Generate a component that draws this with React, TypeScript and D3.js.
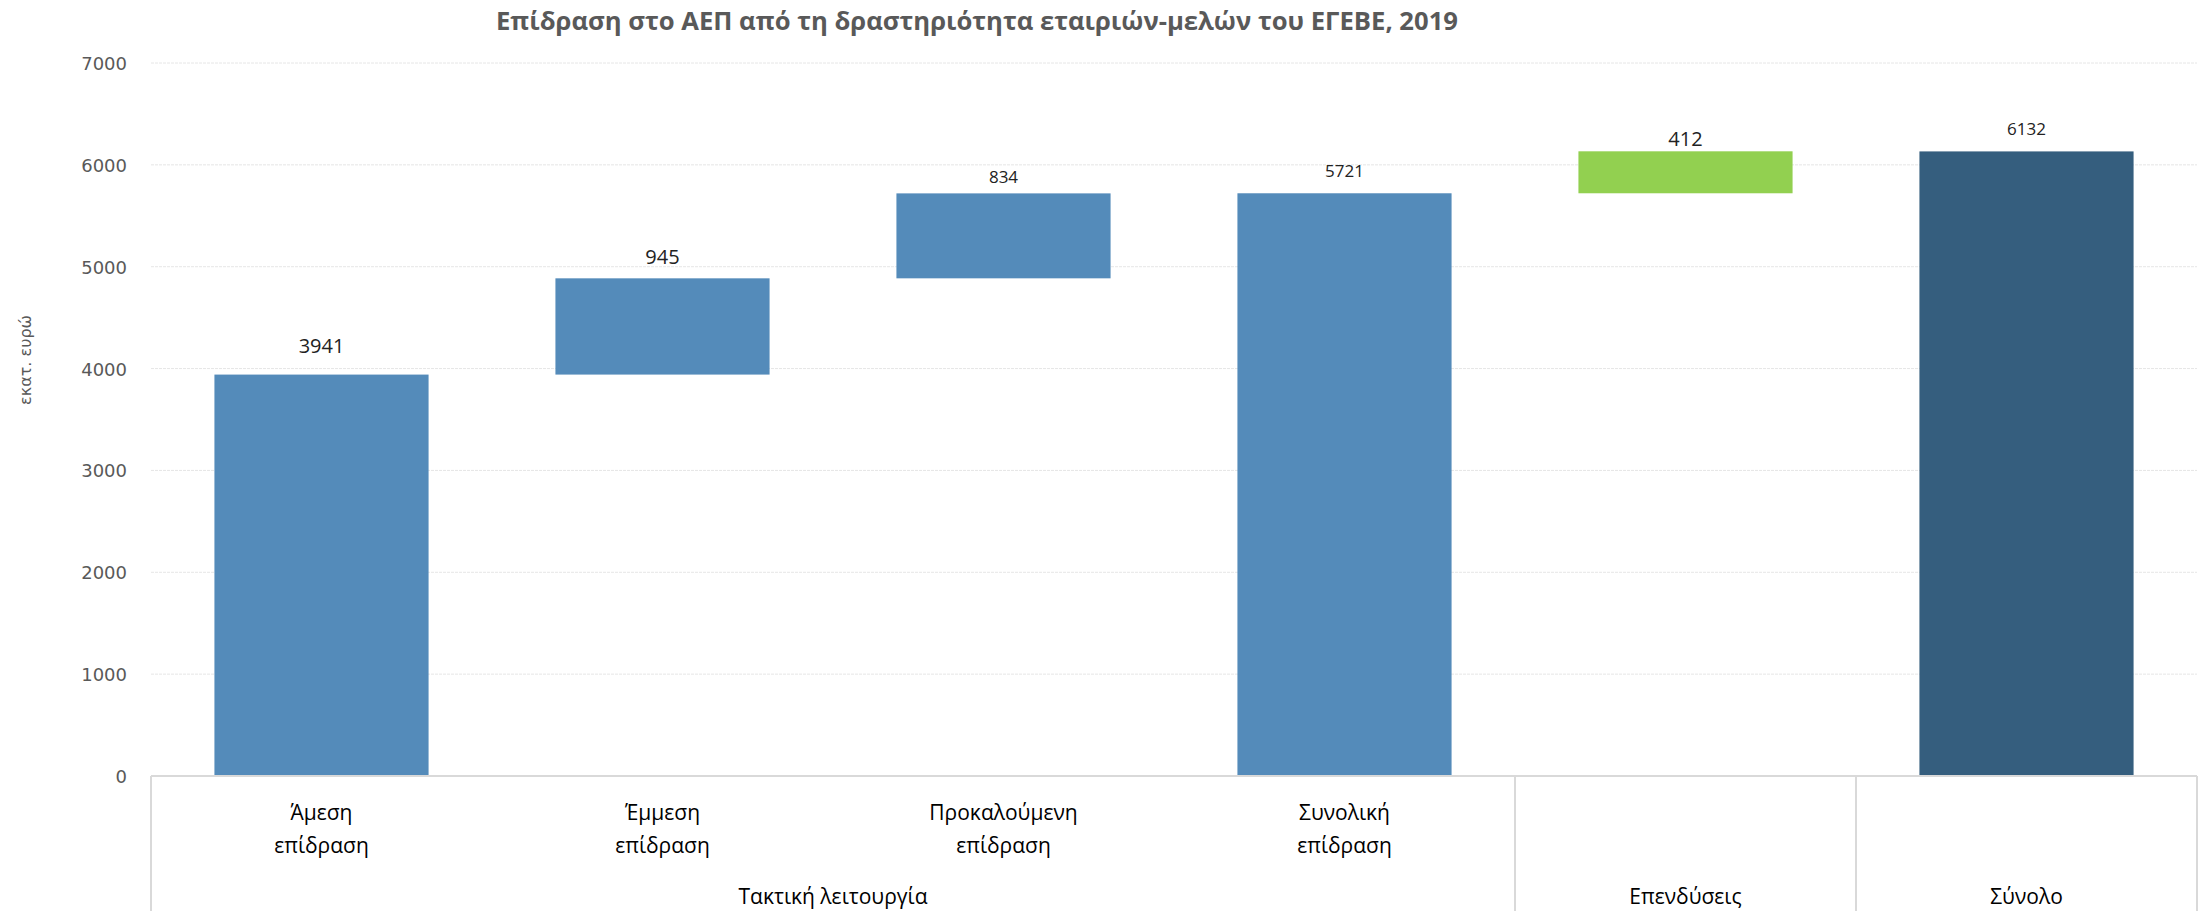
import React from "react";
import * as d3 from "d3";

const categories = ["Άμεση\nεπίδραση", "Έμμεση\nεπίδραση", "Προκαλούμενη\nεπίδραση", "Συνολική\nεπίδραση", "", ""];
const values = [3941, 945, 834, 5721, 412, 6132];
const isTotal = [false, false, false, true, false, true];
const barKinds = ["op", "op", "op", "op", "inv", "total"];
const groups = [
  { label: "Τακτική λειτουργία", start: 0, end: 4 },
  { label: "Επενδύσεις", start: 4, end: 5 },
  { label: "Σύνολο", start: 5, end: 6 },
];
const yTicks = [0, 1000, 2000, 3000, 4000, 5000, 6000, 7000];
const labelSizes = [20, 20, 17, 17, 20, 17];
const labelOffsets = [22, 14, 10, 16, 5, 16];

const colors: Record<string, string> = { op: "#548BBA", inv: "#92D050", total: "#355E7E" };

export default function App() {
  const W = 2209, H = 911;
  const left = 151, right = 2197, y0 = 776, yTop = 63;
  const x = d3.scaleBand<number>().domain(d3.range(categories.length)).range([left, right]).paddingInner(0.372).paddingOuter(0.186);
  const y = d3.scaleLinear().domain([0, 7000]).range([y0, yTop]);

  let run = 0;
  const bars = values.map((v, i) => {
    let b0: number, b1: number;
    if (isTotal[i]) { b0 = 0; b1 = v; run = v; }
    else { b0 = run; b1 = run + v; run = b1; }
    return { i, v, b0, b1 };
  });

  const step = (right - left) / categories.length;
  const bandX = (k: number) => left + k * step;

  return (
    <svg width={W} height={H} style={{ position: "absolute", left: 0, top: 0, background: "#fff" }}>
      <rect x={0} y={0} width={W} height={H} fill="#fff" />
      <text x={977} y={30} textAnchor="middle" fontFamily="Open Sans, sans-serif" fontWeight="bold" fontSize={25} fill="#595959" textLength={962} lengthAdjust="spacingAndGlyphs">
        Επίδραση στο ΑΕΠ από τη δραστηριότητα εταιριών-μελών του ΕΓΕΒΕ, 2019
      </text>
      {yTicks.filter(t => t > 0).map(t => (
        <line key={t} x1={left} x2={right} y1={y(t)} y2={y(t)} stroke="#E6E6E6" strokeWidth={1} strokeDasharray="3,1" />
      ))}
      {yTicks.map(t => (
        <text key={"l" + t} x={127} y={y(t) + 7} textAnchor="end" fontFamily="DejaVu Sans, sans-serif" fontSize={18} fill="#595959">{t}</text>
      ))}
      <text transform={`translate(31,360) rotate(-90)`} textAnchor="middle" fontFamily="DejaVu Sans, sans-serif" fontSize={16} fill="#595959">εκατ. ευρώ</text>
      {bars.map(b => (
        <rect key={b.i} x={x(b.i)} width={x.bandwidth()} y={y(b.b1)} height={y(b.b0) - y(b.b1)} fill={colors[barKinds[b.i]]} />
      ))}
      {bars.map(b => (
        <text key={"v" + b.i} x={(x(b.i) as number) + x.bandwidth() / 2} y={y(b.b1) - labelOffsets[b.i]} textAnchor="middle" fontFamily="Open Sans, sans-serif" fontSize={labelSizes[b.i]} fill="#222">{b.v}</text>
      ))}
      <line x1={left} x2={right} y1={y0} y2={y0} stroke="#D9D9D9" strokeWidth={2} />
      {[0, 4, 5, 6].map(k => (
        <line key={"g" + k} x1={bandX(k)} x2={bandX(k)} y1={y0} y2={H} stroke="#D9D9D9" strokeWidth={2} />
      ))}
      {categories.map((c, i) => c ? (
        <text key={"c" + i} textAnchor="middle" fontFamily="Open Sans, sans-serif" fontSize={21} fill="#000">
          {c.split("\n").map((ln, j) => (
            <tspan key={j} x={(x(i) as number) + x.bandwidth() / 2} y={820 + j * 33}>{ln}</tspan>
          ))}
        </text>
      ) : null)}
      {groups.map(g => (
        <text key={g.label} x={(bandX(g.start) + bandX(g.end)) / 2} y={904} textAnchor="middle" fontFamily="Open Sans, sans-serif" fontSize={21} fill="#000">{g.label}</text>
      ))}
    </svg>
  );
}
